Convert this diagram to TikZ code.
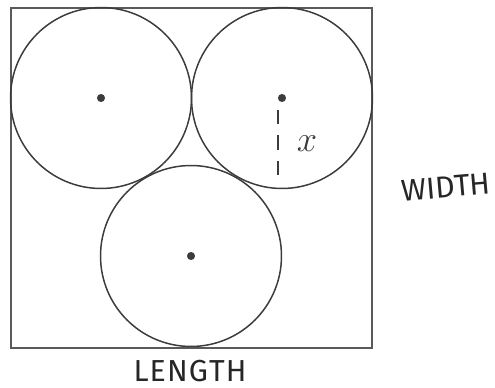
\documentclass[tikz,border=0pt]{standalone}
\usepackage{fontspec}
\setsansfont{Fira Sans}
\definecolor{penline}{HTML}{3C3C3C}
\definecolor{boxline}{HTML}{5A5A5A}
\tikzset{
  disc/.style={circle, draw=penline, line width=0.85pt, minimum size=3.62cm, inner sep=0pt},
  handlabel/.style={font=\sffamily\LARGE, text=black!85, inner sep=1pt},
}

\begin{document}
\begin{tikzpicture}[x=0.02cm, y=-0.02cm]
  % keep the page at the reference size (px units, y runs down)
  \useasboundingbox (0,0) rectangle (495,388);

  % the box the three discs sit in
  \draw[boxline, line width=1.1pt] (11,8) rectangle (372,348);

  % three discs: two on top, one below between them
  \node[disc] (discleft) at (101,98) {};
  \node[disc] (discright) at (282,98) {};
  \node[disc] (discbottom) at (191,256) {};
  \foreach \d in {discleft, discright, discbottom}
    \fill[penline] (\d.center) circle (2.3pt);

  % radius marker on the right disc
  \coordinate (radtop) at (278,110);
  \coordinate (radfoot) at (278,185);
  \draw[penline, line width=1.1pt, dash pattern=on 8pt off 6.5pt] (radtop) -- (radfoot);
  \node[font=\huge, text=penline] (radlabel) at (307,144) {$x$};

  % hand lettered sides
  \node[handlabel, rotate=5] (widthlabel) at (446,187) {WIDTH};
  \node[handlabel] (lengthlabel) at (190,371) {L\kern0.6pt E\kern0.6pt N\kern0.6pt G\kern0.6pt T\kern0.6pt H};
\end{tikzpicture}
\end{document}
